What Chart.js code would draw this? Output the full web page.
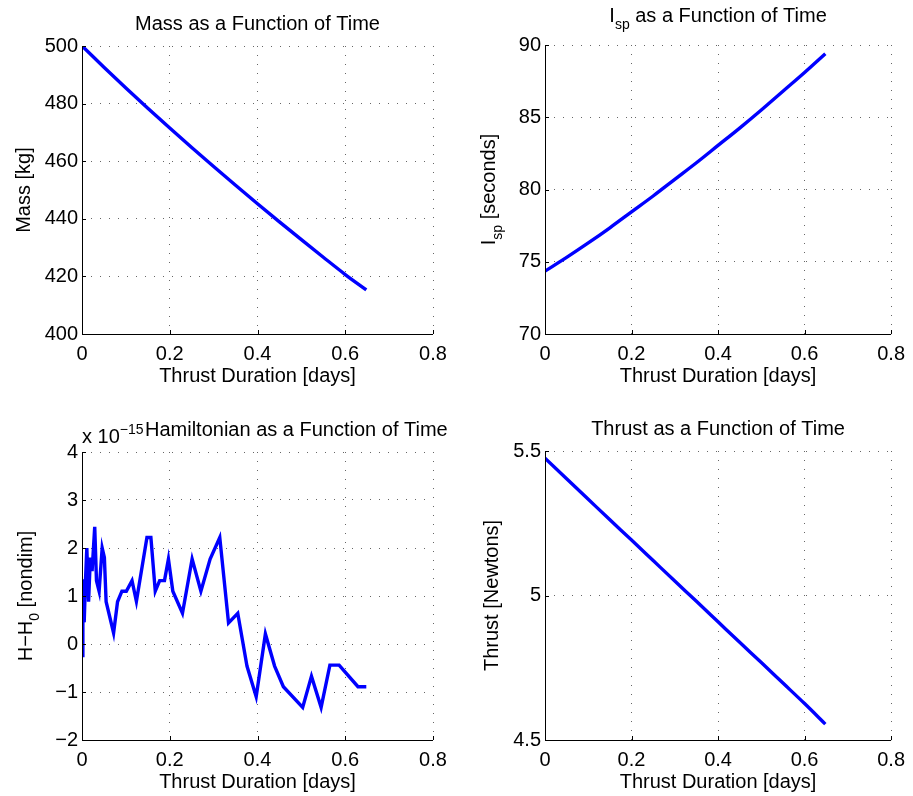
<!DOCTYPE html>
<html>
<head>
<meta charset="utf-8">
<script src="https://cdn.jsdelivr.net/npm/chart.js@4.4.0/dist/chart.umd.min.js"></script>
<style>
  body { margin: 0; background: #fff; }
  canvas { position: absolute; }
</style>
</head>
<body>
<canvas id="massChart" width="460" height="398" style="left:0;top:0"></canvas>
<canvas id="ispChart" width="453" height="398" style="left:460px;top:0"></canvas>
<canvas id="hamChart" width="460" height="398" style="left:0;top:398px"></canvas>
<canvas id="thrustChart" width="453" height="398" style="left:460px;top:398px"></canvas>
<script>
// time samples for the smooth curves [days]
const timeDays = [0, 0.05, 0.1, 0.15, 0.2, 0.25, 0.3, 0.35, 0.4, 0.45, 0.5, 0.55, 0.6, 0.648];
const massKg = [500, 492.65, 485.45, 478.4, 471.5, 464.75, 458.15, 451.65, 445.25, 438.95, 432.75, 426.65, 420.65, 415.3];
const ispSec = [74.35, 75.3, 76.3, 77.35, 78.45, 79.55, 80.7, 81.85, 83.05, 84.25, 85.5, 86.8, 88.1, 89.4];
const thrustN = [5.475, 5.404, 5.333, 5.262, 5.192, 5.121, 5.05, 4.98, 4.909, 4.838, 4.768, 4.697, 4.626, 4.555];

// hamiltonian drift, values in units of 1e-15
const hamTime = [0, 0.002, 0.005, 0.008, 0.011, 0.015, 0.019, 0.023, 0.029, 0.033, 0.039, 0.046, 0.051, 0.055,
  0.072, 0.081, 0.091, 0.101, 0.114, 0.124, 0.148, 0.157, 0.167, 0.177, 0.188, 0.197, 0.207, 0.229, 0.251,
  0.271, 0.292, 0.314, 0.334, 0.355, 0.376, 0.397, 0.418, 0.439, 0.459, 0.503, 0.523, 0.545, 0.565, 0.586,
  0.629, 0.648];
const hamValue = [-0.24, 1.35, 0.45, 1.33, 2.0, 0.88, 1.8, 1.52, 2.44, 1.32, 1.1, 2.0, 1.8, 0.88,
  0.23, 0.88, 1.1, 1.1, 1.32, 0.89, 2.22, 2.22, 1.1, 1.32, 1.32, 1.77, 1.1, 0.64, 1.77,
  1.1, 1.77, 2.22, 0.44, 0.64, -0.46, -1.1, 0.21, -0.46, -0.89, -1.32, -0.67, -1.32, -0.44, -0.44,
  -0.89, -0.89];

const xTicks = [0, 0.2, 0.4, 0.6, 0.8];

const FONT = '"Liberation Sans", Arial, Helvetica, sans-serif';

// draw a run of text pieces [text, size, dy] (for sub/superscripts)
function richText(ctx, parts, x, y, align) {
  let total = 0;
  const widths = parts.map(p => {
    ctx.font = p[1] + 'px ' + FONT;
    const w = ctx.measureText(p[0]).width;
    total += w;
    return w;
  });
  let cx = align === 'center' ? x - total / 2 : x;
  ctx.textBaseline = 'alphabetic';
  ctx.textAlign = 'left';
  ctx.fillStyle = '#000';
  parts.forEach((p, i) => {
    ctx.font = p[1] + 'px ' + FONT;
    ctx.fillText(p[0], cx, y + p[2]);
    cx += widths[i];
  });
}

// matlab-ish axes: solid left/bottom lines, inward ticks, titles and labels
const axesPlugin = {
  id: 'matlabAxes',
  afterDraw(chart, args, opts) {
    const ctx = chart.ctx;
    const a = chart.chartArea;
    const xs = chart.scales.x, ys = chart.scales.y;
    ctx.save();
    ctx.strokeStyle = '#000';
    ctx.lineWidth = 1;
    ctx.beginPath();
    ctx.moveTo(Math.round(a.left) + 0.5, a.top);
    ctx.lineTo(Math.round(a.left) + 0.5, Math.round(a.bottom) + 0.5);
    ctx.lineTo(a.right, Math.round(a.bottom) + 0.5);
    ys.ticks.forEach(t => {
      const py = Math.round(ys.getPixelForValue(t.value)) + 0.5;
      ctx.moveTo(a.left, py);
      ctx.lineTo(a.left + 4, py);
    });
    xs.ticks.forEach(t => {
      const px = Math.round(xs.getPixelForValue(t.value)) + 0.5;
      ctx.moveTo(px, a.bottom);
      ctx.lineTo(px, a.bottom - 4);
    });
    ctx.stroke();

    const cx = (a.left + a.right) / 2;
    const cy = (a.top + a.bottom) / 2;
    // title
    if (opts.titleLeft !== undefined) {
      richText(ctx, opts.title, opts.titleLeft, a.top + opts.titleDy, 'left');
    } else {
      richText(ctx, opts.title, cx, a.top + opts.titleDy, 'center');
    }
    if (opts.exponent) {
      richText(ctx, opts.exponent, a.left, a.top - 9, 'left');
    }
    // x label
    richText(ctx, [['Thrust Duration [days]', 20, 0]], cx, a.bottom + 48, 'center');
    // y label
    ctx.translate(opts.yLabelX, cy);
    ctx.rotate(-Math.PI / 2);
    richText(ctx, opts.yLabel, 0, 0, 'center');
    ctx.restore();
  }
};

function makeChart(id, cfg) {
  const canvas = document.getElementById(id);
  const points = cfg.times.map((t, i) => ({ x: t, y: cfg.values[i] }));
  return new Chart(canvas, {
    type: 'line',
    data: {
      datasets: [{
        data: points,
        borderColor: '#0000ff',
        borderWidth: 3.4,
        pointRadius: 0,
        fill: false,
        cubicInterpolationMode: cfg.smooth ? 'monotone' : 'default',
        tension: 0
      }]
    },
    options: {
      responsive: false,
      animation: false,
      events: [],
      layout: { padding: { left: 0, top: cfg.top, right: canvas.width - cfg.right, bottom: 0 } },
      plugins: {
        legend: { display: false },
        tooltip: { enabled: false },
        matlabAxes: cfg.axes
      },
      scales: {
        x: {
          type: 'linear',
          min: 0, max: 0.8,
          afterBuildTicks: s => { s.ticks = xTicks.map(v => ({ value: v })); },
          afterFit: s => { s.height = canvas.height - cfg.bottom; },
          ticks: {
            color: '#000',
            padding: 8,
            maxRotation: 0,
            font: { family: FONT, size: 20 },
            callback: v => String(+v.toFixed(1))
          },
          grid: { color: 'rgba(0,0,0,0.6)', lineWidth: 1, drawTicks: false },
          border: { display: false, dash: [1, 8] }
        },
        y: {
          type: 'linear',
          min: cfg.yTicks[0], max: cfg.yTicks[cfg.yTicks.length - 1],
          afterBuildTicks: s => { s.ticks = cfg.yTicks.map(v => ({ value: v })); },
          afterFit: s => { s.width = cfg.left; },
          ticks: {
            color: '#000',
            padding: 4,
            font: { family: FONT, size: 20 },
            callback: cfg.yFmt || (v => String(v))
          },
          grid: { color: 'rgba(0,0,0,0.6)', lineWidth: 1, drawTicks: false },
          border: { display: false, dash: [1, 8] }
        }
      }
    },
    plugins: [axesPlugin]
  });
}

makeChart('massChart', {
  times: timeDays, values: massKg, smooth: true,
  left: 82, right: 433, top: 46, bottom: 334,
  yTicks: [400, 420, 440, 460, 480, 500],
  axes: {
    title: [['Mass as a Function of Time', 20, 0]], titleDy: -16,
    yLabel: [['Mass [kg]', 20, 0]], yLabelX: 29.5
  }
});

makeChart('ispChart', {
  times: timeDays, values: ispSec, smooth: true,
  left: 85, right: 437, top: 45, bottom: 334,
  yTicks: [70, 75, 80, 85, 90],
  axes: {
    title: [['I', 20, 0], ['sp', 14, 7], [' as a Function of Time', 20, 0]], titleDy: -23,
    yLabel: [['I', 20, 0], ['sp', 14, 7], [' [seconds]', 20, 0]], yLabelX: 35
  }
});

makeChart('hamChart', {
  times: hamTime, values: hamValue, smooth: false,
  left: 82, right: 433, top: 54, bottom: 342,
  yTicks: [-2, -1, 0, 1, 2, 3, 4],
  yFmt: v => (v < 0 ? '\u2212' + Math.abs(v) : String(v)),
  axes: {
    title: [['Hamiltonian as a Function of Time', 20, 0]], titleDy: -16, titleLeft: 145,
    exponent: [['x 10', 20, 0], ['\u221215', 14, -9]],
    yLabel: [['H\u2212H', 20, 0], ['0', 14, 7], [' [nondim]', 20, 0]], yLabelX: 32
  }
});

makeChart('thrustChart', {
  times: timeDays, values: thrustN, smooth: true,
  left: 85, right: 437, top: 53, bottom: 342,
  yTicks: [4.5, 5, 5.5],
  axes: {
    title: [['Thrust as a Function of Time', 20, 0]], titleDy: -16,
    yLabel: [['Thrust [Newtons]', 20, 0]], yLabelX: 38
  }
});
</script>
</body>
</html>
